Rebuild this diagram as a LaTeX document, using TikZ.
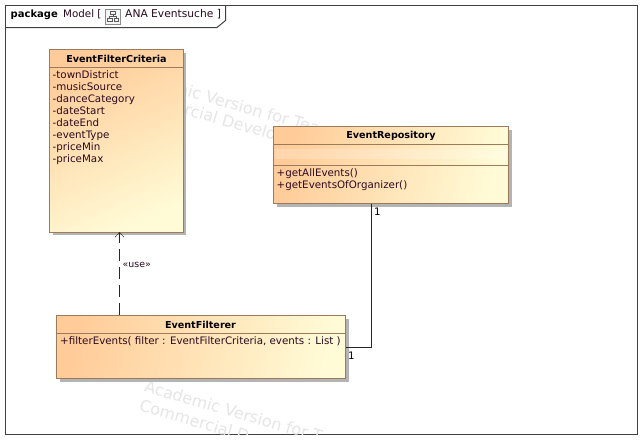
\documentclass[tikz,border=0pt]{standalone}
\usepackage{fontspec}
\setmainfont{DejaVu Sans}
\usetikzlibrary{calc, arrows.meta, positioning}
\definecolor{classborder}{HTML}{9C7B5C}
\definecolor{classleft}{HTML}{FFCC99}
\definecolor{classright}{HTML}{FFFBD6}
\definecolor{classtext}{HTML}{2A0A1E}
\definecolor{shadowgrey}{HTML}{B4B4B4}
\definecolor{markgrey}{HTML}{E6E6E6}
\definecolor{framegrey}{HTML}{404040}

\begin{document}
\begin{tikzpicture}[
    x=1pt,
    y=-1pt,
    >=Stealth,
    font=\fontsize{10.3}{12}\selectfont,
    classbox/.style={draw=classborder, line width=1pt, left color=classleft, right color=classright, shading angle=#1, outer sep=0pt, inner sep=0pt, anchor=north west},
    classname/.style={font=\fontsize{9.6}{12}\selectfont\bfseries, text=black, anchor=center, inner sep=0pt},
    members/.style={text=classtext, align=left, anchor=north west, inner sep=0pt},
    watermark/.style={text=markgrey, font=\fontsize{16}{20}\selectfont, rotate=-16, anchor=west, inner sep=0pt}
]
    \useasboundingbox (0,0) rectangle (642,439);
    \fill[white] (0,0) rectangle (642,439);

    % Frame
    \draw[framegrey, line width=1pt] (5.5,5.5) rectangle (637,434.5);
    \draw[framegrey, line width=1pt] (5.5,27.5) -- (217,27.5) -- (225.5,20.5) -- (225.5,5.5);
    \node[anchor=west, inner sep=0pt, font=\fontsize{10}{12}\selectfont\bfseries] (pkg) at (10.5,14.5) {package};
    \node[anchor=west, inner sep=0pt, text=classtext] (model) at (63,14.5) {Model [};
    \node[draw=black!45, fill=black!4, minimum width=15pt, minimum height=15pt, inner sep=0pt] (icon) at (113,16.5) {};
    \node[anchor=west, inner sep=0pt, text=classtext, font=\fontsize{10.7}{12}\selectfont] (anatitle) at (125,14.5) {ANA Eventsuche ]};
    % Icon
    \draw[black!65, line width=.7pt] (110.5,11.5) rectangle (115.5,14.5);
    \draw[black!65, line width=.7pt] (107.5,18.5) rectangle (112,21.5);
    \draw[black!65, line width=.7pt] (114,18.5) rectangle (118.5,21.5);
    \draw[black!65, line width=.6pt] (113,14.5) -- (113,16.5) (109.5,18.5) -- (109.5,16.5) -- (116.5,16.5) -- (116.5,18.5);

    % Watermarks
    \begin{scope}
        \clip (6,6) rectangle (636.5,434);
        \node[watermark] (markone) at (126,73) {Academic Version for Tea};
        \node[watermark] (marktwo) at (125,93) {Commercial Develop};
        \node[watermark] (markthree) at (145,386) {Academic Version for T};
        \node[watermark] (markfour) at (140,405) {Commercial D};
    \end{scope}

    % Shadows
    \fill[shadowgrey] (52.5,52.5) rectangle (186,235);
    \fill[shadowgrey] (276.5,129.5) rectangle (512,206.5);
    \fill[shadowgrey] (59.5,318.5) rectangle (348.5,381.5);

    % Classes
    \node[classbox=25, minimum width=133.5pt, minimum height=182.5pt] (criteria) at (49.5,49.5) {};
    \node[classbox=75, minimum width=235pt, minimum height=77pt] (repo) at (273.5,126.5) {};
    \node[classbox=78, minimum width=289pt, minimum height=63pt] (filterer) at (56.5,315.5) {};

    % Compartments
    \coordinate (critline) at (49.5,67.5);
    \coordinate (repoline) at (273.5,144.5);
    \coordinate (repolinetwo) at (273.5,165.5);
    \coordinate (filtline) at (56.5,333.5);
    \draw[classborder, line width=1pt] (critline) -- (critline -| criteria.east);
    \draw[classborder, line width=1pt] (repoline) -- (repoline -| repo.east);
    \draw[classborder, line width=1pt] (repolinetwo) -- (repolinetwo -| repo.east);
    \draw[classborder, line width=1pt] (filtline) -- (filtline -| filterer.east);
    \fill[white, opacity=.2] (274.5,149) rectangle (508,159);

    % Labels
    \node[classname] (critname) at (116.5,58.5) {EventFilterCriteria};
    \node[classname] (reponame) at (391,135.5) {EventRepository};
    \node[classname] (filtname) at (200.5,324.5) {EventFilterer};
    \node[members] (critmem) at (52.5,70.5) {-townDistrict\\-musicSource\\-danceCategory\\-dateStart\\-dateEnd\\-eventType\\-priceMin\\-priceMax};
    \node[members] (repomem) at (276.5,168.5) {+getAllEvents()\\+getEventsOfOrganizer()};
    \node[members] (filtmem) at (60,336) {+filterEvents( filter : EventFilterCriteria, events : List )};

    % Connectors
    \coordinate (usetail) at (119.5,315);
    \coordinate (usehead) at (usetail |- criteria.south);
    \coordinate (assoctop) at (371.5,203.5);
    \coordinate (assocright) at (345.5,347.5);
    \draw[->, >={Straight Barb[length=5pt,width=9pt]}, black!85, dash pattern=on 12pt off 6pt] (usetail) -- (usehead);
    \draw[black!85, line width=.8pt] (assoctop) |- (assocright);
    \node[anchor=west, inner sep=0pt, font=\fontsize{9.4}{10}\selectfont, text=classtext] (uselabel) at (122.5,264.5) {«use»};
    \node[anchor=west, inner sep=0pt, text=black] (repomult) at (374,212) {1};
    \node[anchor=west, inner sep=0pt, text=black] (filtmult) at (348,356) {1};
\end{tikzpicture}
\end{document}
